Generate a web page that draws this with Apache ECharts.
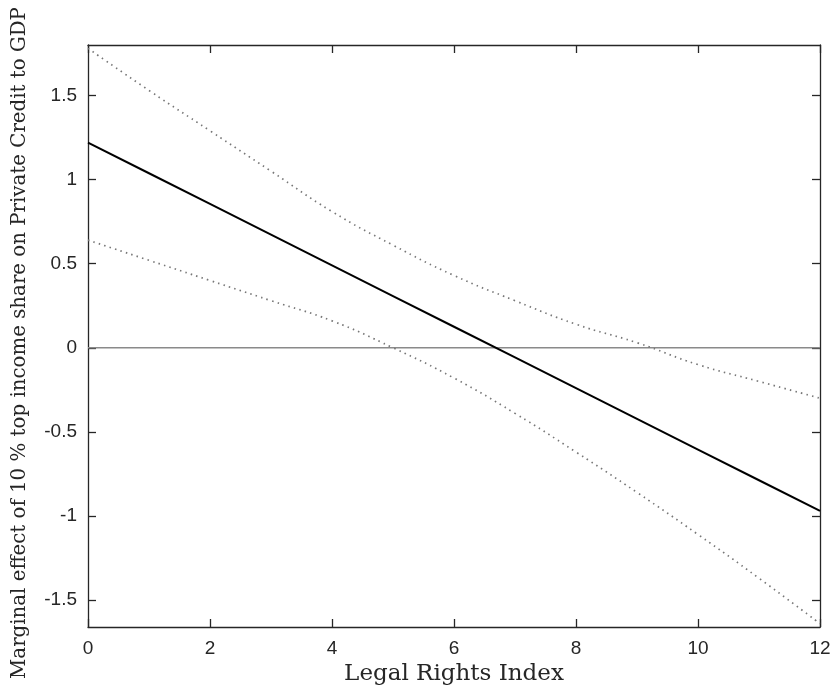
<!DOCTYPE html>
<html>
<head>
<meta charset="utf-8">
<script src="https://cdn.jsdelivr.net/npm/echarts@6/dist/echarts.min.js"></script>
<style>html,body{margin:0;padding:0;background:#fff}#c{width:830px;height:691px}</style>
</head>
<body>
<div id="c"></div>
<script>
const xValues = [0,1,2,3,4,5,6,7,8,9,10,11,12];
const marginalEffect = [1.22,1.0375,0.855,0.6725,0.49,0.3075,0.125,-0.0575,-0.24,-0.4225,-0.605,-0.7875,-0.97];
const upperBound = [1.78,1.53,1.29,1.05,0.81,0.61,0.43,0.28,0.14,0.03,-0.10,-0.20,-0.30];
const lowerBound = [0.64,0.52,0.40,0.28,0.16,0.00,-0.18,-0.39,-0.62,-0.86,-1.11,-1.37,-1.64];
const yTicks = [-1.5,-1,-0.5,0,0.5,1,1.5];
const xTicks = [0,2,4,6,8,10,12];
const xTitle = 'Legal Rights Index';
const yTitle = 'Marginal effect of 10 % top income share on Private Credit to GDP';

const pair = arr => xValues.map((x,i)=>[x,arr[i]]);
const axisCol = '#262626';
const labelFont = {fontFamily:'Liberation Sans, Arial, sans-serif', fontSize:19, color:axisCol};
const serif = 'DejaVu Serif, Liberation Serif, serif';

const chart = echarts.init(document.getElementById('c'), null, {renderer:'canvas'});
const xBase = {type:'value', min:0, max:12, interval:2,
  axisLine:{show:true, onZero:false, lineStyle:{color:axisCol, width:1.3}},
  axisTick:{show:true, inside:true, length:8, lineStyle:{color:axisCol, width:1.3}, customValues:xTicks},
  splitLine:{show:false}};
const yBase = {type:'value', min:-1.66, max:1.8,
  axisLine:{show:true, onZero:false, lineStyle:{color:axisCol, width:1.3}},
  axisTick:{show:true, inside:true, length:8, lineStyle:{color:axisCol, width:1.3}, customValues:yTicks},
  splitLine:{show:false}};
chart.setOption({
  animation:false,
  backgroundColor:'#fff',
  grid:{left:88, right:10, top:45, bottom:64, containLabel:false, outerBoundsMode:'none'},
  xAxis:[
    Object.assign({}, xBase, {position:'bottom', name:xTitle, nameLocation:'middle', nameGap:35,
      nameTextStyle:{fontFamily:serif, fontSize:23, color:axisCol},
      axisLabel:Object.assign({margin:12, customValues:xTicks}, labelFont)}),
    Object.assign({}, xBase, {position:'top', axisLabel:{show:false}})
  ],
  yAxis:[
    Object.assign({}, yBase, {position:'left', name:yTitle, nameLocation:'middle', nameGap:58,
      nameRotate:90,
      nameTextStyle:{fontFamily:serif, fontSize:19.8, color:axisCol, padding:[0,14,0,0]},
      axisLabel:Object.assign({margin:11, customValues:yTicks}, labelFont)}),
    Object.assign({}, yBase, {position:'right', axisLabel:{show:false}})
  ],
  series:[
    {type:'line', name:'zero', data:[[0,0],[12,0]], symbol:'none', silent:true,
      lineStyle:{color:'#8a8a8a', width:1.5}, z:1},
    {type:'line', name:'upper', data:pair(upperBound), smooth:true, symbol:'none',
      lineStyle:{color:'#777777', width:1.7, type:[1.5,4.2]}, z:2},
    {type:'line', name:'lower', data:pair(lowerBound), smooth:true, symbol:'none',
      lineStyle:{color:'#777777', width:1.7, type:[1.5,4.2]}, z:2},
    {type:'line', name:'effect', data:pair(marginalEffect), symbol:'none',
      lineStyle:{color:'#000', width:2}, z:3}
  ]
});
</script>
</body>
</html>
